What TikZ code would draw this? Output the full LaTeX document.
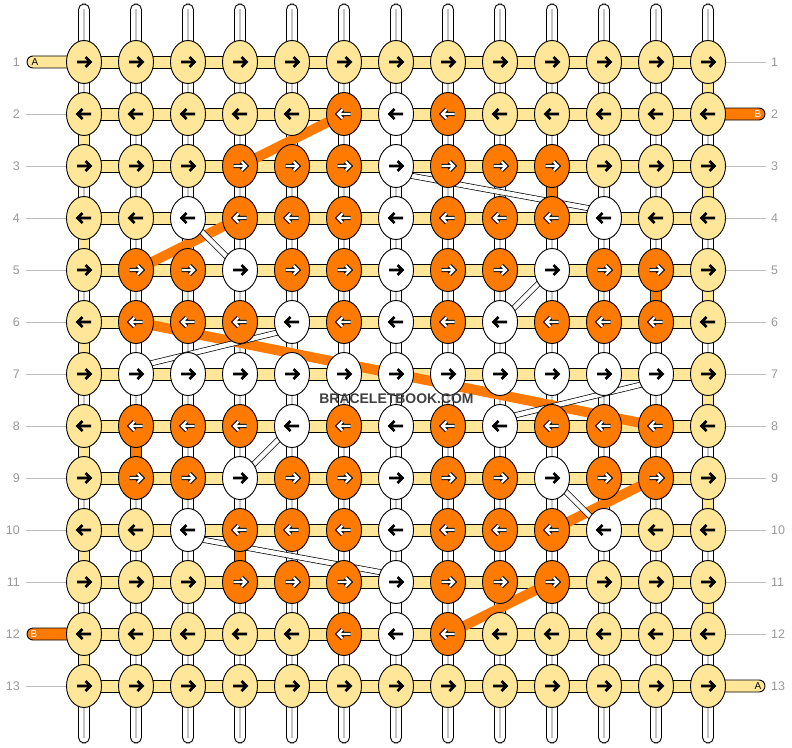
\documentclass[tikz,border=0pt]{standalone}
\usepackage{fontspec}
\setmainfont{Liberation Sans}
\usetikzlibrary{shapes.geometric,calc}
\pgfdeclarelayer{bgl}
\pgfdeclarelayer{warpl}
\pgfdeclarelayer{conl}
\pgfdeclarelayer{bandl}
\pgfdeclarelayer{topl}
\pgfsetlayers{bgl,warpl,conl,bandl,main,topl}
\definecolor{ky}{HTML}{FFE699}
\definecolor{ko}{HTML}{FF7A00}
\definecolor{lbl}{HTML}{9A9A9A}
\definecolor{gln}{HTML}{BDBDBD}
\definecolor{wgray}{HTML}{C4C4C4}
\definecolor{wm}{HTML}{404040}
\tikzset{
 knotbase/.style={ellipse, draw=black, line width=0.9bp, minimum width=35bp, minimum height=43bp, inner sep=0pt},
 knotY/.style={knotbase, fill=ky},
 knotO/.style={knotbase, fill=ko},
 knotW/.style={knotbase, fill=white},
 warp/.style={draw=black, fill=white, line width=0.9bp, rounded corners=5.5bp},
 warpline/.style={draw=wgray, line width=1.6bp},
 hcon/.style={draw=black, fill=ky, line width=0.9bp},
 vconY/.style={draw=black, fill=ky, line width=0.9bp},
 vconO/.style={draw=black, fill=ko, line width=0.9bp},
 vconW/.style={draw=black, fill=white, line width=0.9bp},
 oband/.style={draw=ko, line width=10bp},
 wband/.style={draw=black, line width=0.7bp, double=white, double distance=4.5bp},
 stubY/.style={draw=black, fill=ky, line width=0.9bp, rounded corners=6bp},
 stubO/.style={draw=black, fill=ko, line width=0.9bp, rounded corners=6bp},
 rowlbl/.style={text=lbl, font=\fontsize{12.5}{12.5}\selectfont, inner sep=0pt},
 guide/.style={draw=gln, line width=0.9bp},
 stublbl/.style={font=\fontsize{10}{10}\selectfont, inner sep=0pt},
 pics/arrY/.style={code={\draw[line width=2.6bp, line join=miter] (-7,0)--(6.5,0) (1.5,-5)--(6.5,0)--(1.5,5);}},
 pics/arrW/.style={code={\draw[line width=2.6bp, line join=miter] (-7,0)--(6.5,0) (1.5,-5)--(6.5,0)--(1.5,5);}},
 pics/arrO/.style={code={
   \draw[line width=4.4bp, line cap=square, line join=miter] (-6.5,0)--(6,0) (1.5,-4.5)--(6,0)--(1.5,4.5);
   \draw[white, line width=2.2bp, line cap=square, line join=miter] (-6.5,0)--(6,0) (1.5,-4.5)--(6,0)--(1.5,4.5);}},
}
\begin{document}
\begin{tikzpicture}[x=1bp,y=-1bp]
\useasboundingbox (0,0) rectangle (792,748);
\begin{pgfonlayer}{bgl}
\fill[white] (0,0) rectangle (792,748);
\end{pgfonlayer}
% knots
\foreach \r/\row in {
 1/{Y,Y,Y,Y,Y,Y,Y,Y,Y,Y,Y,Y,Y},
 2/{Y,Y,Y,Y,Y,O,W,O,Y,Y,Y,Y,Y},
 3/{Y,Y,Y,O,O,O,W,O,O,O,Y,Y,Y},
 4/{Y,Y,W,O,O,O,W,O,O,O,W,Y,Y},
 5/{Y,O,O,W,O,O,W,O,O,W,O,O,Y},
 6/{Y,O,O,O,W,O,W,O,W,O,O,O,Y},
 7/{Y,W,W,W,W,W,W,W,W,W,W,W,Y},
 8/{Y,O,O,O,W,O,W,O,W,O,O,O,Y},
 9/{Y,O,O,W,O,O,W,O,O,W,O,O,Y},
 10/{Y,Y,W,O,O,O,W,O,O,O,W,Y,Y},
 11/{Y,Y,Y,O,O,O,W,O,O,O,Y,Y,Y},
 12/{Y,Y,Y,Y,Y,O,W,O,Y,Y,Y,Y,Y},
 13/{Y,Y,Y,Y,Y,Y,Y,Y,Y,Y,Y,Y,Y}}{
  \pgfmathsetmacro\yy{62+52*(\r-1)}
  \pgfmathsetmacro\d{1-2*mod(\r+1,2)}
  \foreach \k [count=\c] in \row {
    \pgfmathsetmacro\xx{84+52*(\c-1)}
    \node[knot\k] (k-\r-\c) at (\xx,\yy) {};
    \pic[xscale=\d] at (\xx,\yy) {arr\k};
  }
}
% warp strings
\begin{pgfonlayer}{warpl}
\foreach \c in {1,...,13}{
  \pgfmathsetmacro\xx{84+52*(\c-1)}
  \coordinate (wt-\c) at (\xx,4);
  \coordinate (wb-\c) at (\xx,743);
  \draw[warp] ($(wt-\c)+(-5.5,0)$) rectangle ($(wb-\c)+(5.5,0)$);
  \draw[warpline] ($(wt-\c)+(0,5)$) -- ($(wb-\c)+(0,-5)$);
}
\end{pgfonlayer}
% connectors
\begin{pgfonlayer}{conl}
\foreach \r in {1,...,13}{
  \draw[hcon] ($(k-\r-1.center)+(0,-6)$) rectangle ($(k-\r-13.center)+(0,6)$);
}
\foreach \c/\r in {1/2,1/4,1/6,1/8,1/10,1/12,13/1,13/3,13/5,13/7,13/9,13/11}{
  \pgfmathtruncatemacro\rr{\r+1}
  \draw[vconY] ($(k-\r-\c.center)+(-5.5,0)$) rectangle ($(k-\rr-\c.center)+(5.5,0)$);
}
\foreach \c/\r in {10/3,12/5,2/8,4/10}{
  \pgfmathtruncatemacro\rr{\r+1}
  \draw[vconO] ($(k-\r-\c.center)+(-5.5,0)$) rectangle ($(k-\rr-\c.center)+(5.5,0)$);
}
\foreach \c/\r in {7/2,7/11}{
  \pgfmathtruncatemacro\rr{\r+1}
  \draw[vconW] ($(k-\r-\c.center)+(-5.5,0)$) rectangle ($(k-\rr-\c.center)+(5.5,0)$);
}
% stubs
\coordinate (sA1) at (27,62);
\coordinate (sB2) at (765,114);
\coordinate (sB12) at (27,634);
\coordinate (sA13) at (765,686);
\draw[stubY] ($(sA1)+(0,-6)$) rectangle ($(k-1-1.center)+(0,6)$);
\draw[stubO] ($(k-2-13.center)+(0,-6)$) rectangle ($(sB2)+(0,6)$);
\draw[stubO] ($(sB12)+(0,-6)$) rectangle ($(k-12-1.center)+(0,6)$);
\draw[stubY] ($(k-13-13.center)+(0,-6)$) rectangle ($(sA13)+(0,6)$);
% guide lines
\foreach \r in {2,...,11,13}{
  \pgfmathsetmacro\yy{62+52*(\r-1)}
  \coordinate (gl-\r) at (26,\yy);
  \draw[guide] (gl-\r) -- (k-\r-1.center);
}
\foreach \r in {1,3,4,...,12}{
  \pgfmathsetmacro\yy{62+52*(\r-1)}
  \coordinate (gr-\r) at (766,\yy);
  \draw[guide] (k-\r-13.center) -- (gr-\r);
}
\end{pgfonlayer}
% bands
\begin{pgfonlayer}{bandl}
\draw[oband] (k-2-6.center) -- (k-3-4.center);
\draw[oband] (k-4-4.center) -- (k-5-2.center);
\draw[oband] (k-6-2.center) -- (k-8-12.center);
\draw[oband] (k-9-12.center) -- (k-10-10.center);
\draw[oband] (k-11-10.center) -- (k-12-8.center);
\draw[wband] ([yshift=-7bp]k-3-7.center) -- ([yshift=7bp]k-4-11.center);
\draw[wband] ([yshift=7bp]k-11-7.center) -- ([yshift=-7bp]k-10-3.center);
\draw[wband] ([yshift=-7bp]k-6-5.center) -- ([yshift=7bp]k-7-2.center);
\draw[wband] ([yshift=7bp]k-8-9.center) -- ([yshift=-7bp]k-7-12.center);
\draw[wband] (k-4-3.center) -- (k-5-4.center);
\draw[wband] (k-10-11.center) -- (k-9-10.center);
\draw[wband] (k-5-10.center) -- (k-6-9.center);
\draw[wband] (k-9-4.center) -- (k-8-5.center);
\end{pgfonlayer}
% labels
\foreach \r in {1,...,13}{
  \pgfmathsetmacro\yy{62+52*(\r-1)}
  \node[rowlbl, anchor=east] (ll-\r) at (20,\yy) {\r};
  \node[rowlbl, anchor=west] (lr-\r) at (771,\yy) {\r};
}
\node[stublbl] (tA1) at (35,62) {A};
\node[stublbl, text=white] (tB2) at (758,114) {B};
\node[stublbl, text=white] (tB12) at (34,634) {B};
\node[stublbl] (tA13) at (758,686) {A};
\begin{pgfonlayer}{topl}
\node[font=\bfseries\fontsize{14}{14}\selectfont, text=wm, inner sep=0pt] (wmark) at (396.5,399) {BRACELETBOOK.COM};
\end{pgfonlayer}
\end{tikzpicture}
\end{document}
